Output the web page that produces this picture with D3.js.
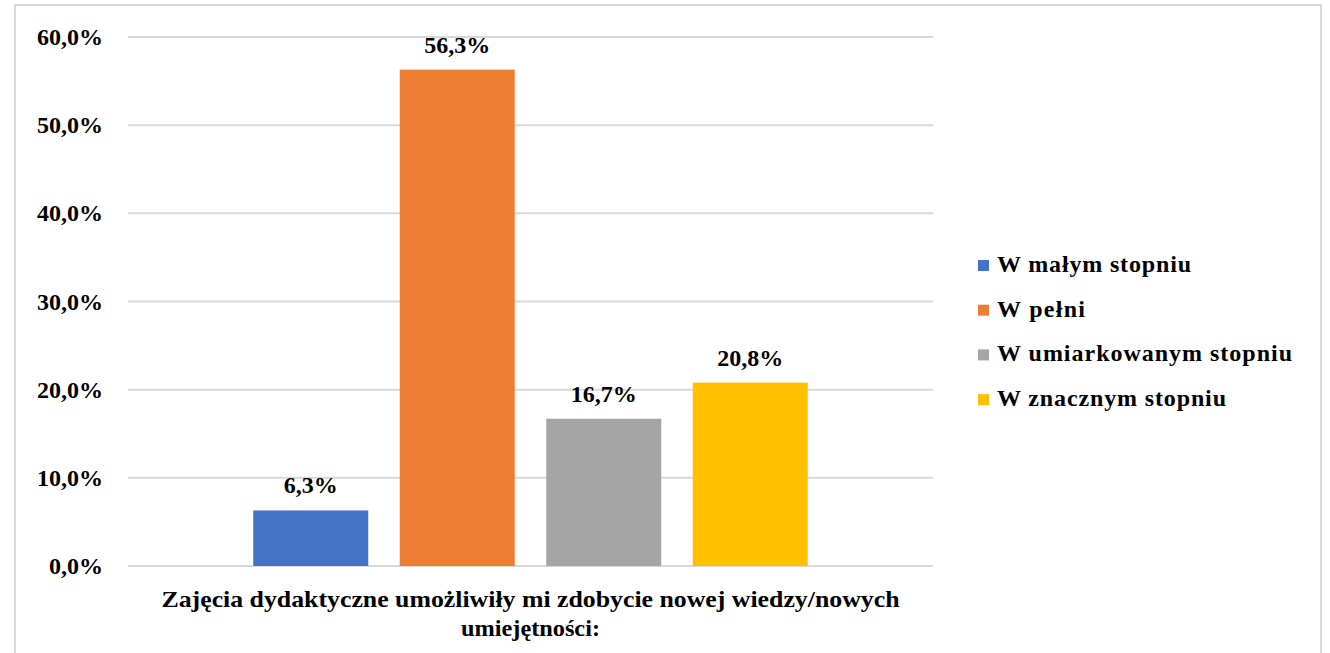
<!DOCTYPE html>
<html><head><meta charset="utf-8">
<script src="https://cdn.jsdelivr.net/npm/d3@7"></script>
<style>body{margin:0;background:#fff;}svg{display:block;}</style>
</head><body>
<svg id="c" width="1330" height="653"></svg>
<script>
const seriesNames = ["W małym stopniu","W pełni","W umiarkowanym stopniu","W znacznym stopniu"];
const seriesValues = [6.3, 56.3, 16.7, 20.8];
const seriesColors = ["#4472C4","#ED7D31","#A5A5A5","#FFC000"];
const categoryLines = ["Zajęcia dydaktyczne umożliwiły mi zdobycie nowej wiedzy/nowych","umiejętności:"];
const yTicks = [0,10,20,30,40,50,60];

(function(){
const svg = d3.select("#c");
const font = "Liberation Serif, Times New Roman, serif";
const fs = 24;
const legendWidths = [194, 88, 295, 229];
const titleWidths = [738, 139];

svg.append("rect").attr("x",15).attr("y",5).attr("width",1306).attr("height",660)
  .attr("fill","#fff").attr("stroke","#d9d9d9").attr("stroke-width",2);

const pL=128, pR=933, pT=37, pB=566;
const y = d3.scaleLinear().domain([0,60]).range([pB,pT]);
const x0 = d3.scaleBand().domain(["c"]).range([pL,pR]);

svg.append("g").selectAll("line").data(yTicks).join("line")
  .attr("x1",pL).attr("x2",pR).attr("y1",d=>y(d)).attr("y2",d=>y(d))
  .attr("stroke","#d9d9d9").attr("stroke-width",2);
svg.append("g").selectAll("text").data(yTicks).join("text")
  .attr("x",103).attr("y",d=>y(d)+8).attr("text-anchor","end")
  .style("font-family",font).attr("font-weight","bold").attr("font-size",fs)
  .text(d=>d.toFixed(1).replace(".",",")+"%");

const groupCenter = x0("c")+x0.bandwidth()/2;
const step = 146.5, pi = 31.5/146.5;
const xb = d3.scaleBand().domain(seriesNames)
  .range([groupCenter-2*step, groupCenter+2*step]).paddingInner(pi).paddingOuter(pi/2);
svg.append("g").selectAll("rect").data(seriesNames).join("rect")
  .attr("x",d=>xb(d)).attr("width",xb.bandwidth())
  .attr("y",(d,i)=>y(seriesValues[i])).attr("height",(d,i)=>pB-y(seriesValues[i]))
  .attr("fill",(d,i)=>seriesColors[i]);
svg.append("g").selectAll("text").data(seriesNames).join("text")
  .attr("x",d=>xb(d)+xb.bandwidth()/2).attr("y",(d,i)=>y(seriesValues[i])-17)
  .attr("text-anchor","middle")
  .style("font-family",font).attr("font-weight","bold").attr("font-size",fs)
  .text((d,i)=>seriesValues[i].toFixed(1).replace(".",",")+"%");

svg.append("g").selectAll("text").data(categoryLines).join("text")
  .attr("x",groupCenter).attr("y",(d,i)=>607+i*29).attr("text-anchor","middle")
  .attr("textLength",(d,i)=>titleWidths[i]).attr("lengthAdjust","spacingAndGlyphs")
  .style("font-family",font).attr("font-weight","bold").attr("font-size",fs)
  .text(d=>d);

const lg = svg.append("g").selectAll("g").data(seriesNames).join("g")
  .attr("transform",(d,i)=>`translate(978,${272+i*44.7})`);
lg.append("rect").attr("x",0).attr("y",-12).attr("width",11).attr("height",11)
  .attr("fill",(d,i)=>seriesColors[i]);
lg.append("text").attr("x",19).attr("y",0)
  .attr("textLength",(d,i)=>legendWidths[i]).attr("lengthAdjust","spacing")
  .style("font-family",font).attr("font-weight","bold").attr("font-size",fs)
  .text(d=>d);
})();
</script>
</body></html>
